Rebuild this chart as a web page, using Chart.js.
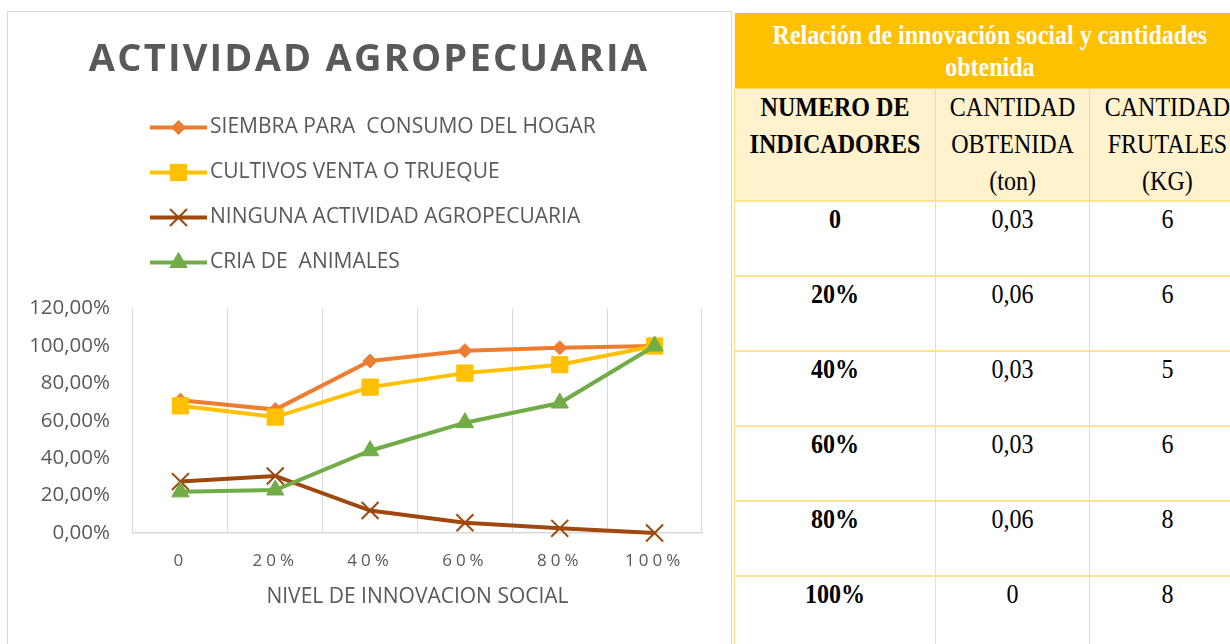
<!DOCTYPE html>
<html lang="es">
<head>
<meta charset="utf-8">
<title>Actividad agropecuaria</title>
<script src="https://cdn.jsdelivr.net/npm/chart.js"></script>
<style>
  html, body { margin: 0; padding: 0; background: #fff; }
  body { width: 1230px; height: 644px; overflow: hidden; position: relative; }
  #chartBox {
    position: absolute; left: 7px; top: 11px; width: 725px; height: 640px;
    border: 1px solid #d9d9d9; box-sizing: border-box;
  }
  /* la tabla original usa una Times algo comprimida */
  #tableBox {
    position: absolute; left: 734px; top: 13px; width: 574px;
    transform: scaleX(0.89); transform-origin: 0 0;
  }
  table {
    border-collapse: collapse; width: 574px; table-layout: fixed;
    font-family: "Liberation Serif", "Times New Roman", serif; color: #000;
  }
  th, td { padding: 0; text-align: center; vertical-align: top; }
  .titulo th {
    height: 75px; background: #FFC000; color: #fff; font-weight: bold;
    font-size: 27px; line-height: 32px; vertical-align: middle;
  }
  .cabecera th {
    height: 107px; background: #FFF2CC; font-size: 27px; line-height: 37px;
    font-weight: normal; border: 1px solid #FFD966; padding-top: 0;
  }
  .cabecera th.neg { font-weight: bold; }
  tbody td {
    height: 75px; font-size: 27px; line-height: 30px; padding-top: 2px;
    box-sizing: border-box;
    border-left: 1px solid #FFD966; border-right: 1px solid #FFD966;
    border-top: 2px solid #FFE38F; border-bottom: 2px solid #FFE38F;
  }
  tbody td.neg { font-weight: bold; }
</style>
</head>
<body>
<div id="chartBox"><canvas id="grafico"></canvas></div>
<div id="tableBox">
  <table>
    <colgroup><col style="width:226px"><col style="width:173px"><col style="width:175px"></colgroup>
    <thead>
      <tr class="titulo"><th colspan="3">Relación de innovación social y cantidades<br>obtenida</th></tr>
      <tr class="cabecera">
        <th class="neg">NUMERO DE<br>INDICADORES</th>
        <th>CANTIDAD<br>OBTENIDA<br>(ton)</th>
        <th>CANTIDAD<br>FRUTALES<br>(KG)</th>
      </tr>
    </thead>
    <tbody id="cuerpoTabla"></tbody>
  </table>
</div>
<script>
// --- datos del gráfico ---
const categorias = ['0', '20%', '40%', '60%', '80%', '100%'];
const siembraConsumo = [0.71, 0.66, 0.92, 0.975, 0.99, 1.0];
const cultivosVenta = [0.68, 0.62, 0.78, 0.855, 0.90, 1.0];
const ningunaActividad = [0.275, 0.305, 0.12, 0.055, 0.025, 0.0];
const criaAnimales = [0.22, 0.23, 0.44, 0.59, 0.695, 1.0];
const etiquetasY = ['0,00%', '20,00%', '40,00%', '60,00%', '80,00%', '100,00%', '120,00%'];

// --- datos de la tabla ---
const tablaIndicadores = ['0', '20%', '40%', '60%', '80%', '100%'];
const tablaCantidadObtenida = ['0,03', '0,06', '0,03', '0,03', '0,06', '0'];
const tablaCantidadFrutales = ['6', '6', '5', '6', '8', '8'];

// tabla
const cuerpo = document.getElementById('cuerpoTabla');
tablaIndicadores.forEach((ind, i) => {
  const tr = document.createElement('tr');
  [[ind, 'neg'], [tablaCantidadObtenida[i], ''], [tablaCantidadFrutales[i], '']].forEach(([txt, cls]) => {
    const td = document.createElement('td');
    td.textContent = txt;
    if (cls) td.className = cls;
    tr.appendChild(td);
  });
  cuerpo.appendChild(tr);
});

// espaciado de letras para el título y las etiquetas del eje X
function conEspaciado(obj, metodo, espacio, dx) {
  if (!obj || obj['_esp_' + metodo]) return;
  const original = obj[metodo];
  obj[metodo] = function (...args) {
    const ctx = this.ctx;
    ctx.save();
    ctx.letterSpacing = espacio;
    ctx.translate(dx || 0, 0);
    original.apply(this, args);
    ctx.restore();
  };
  obj['_esp_' + metodo] = true;
}

const espaciado = {
  id: 'espaciado',
  beforeDraw(chart) {
    conEspaciado(chart.titleBlock, 'draw', '2.2px', 10);
    conEspaciado(chart.scales.x, 'drawLabels', '4px', 0);
  }
};

// leyenda vertical como en Excel
const leyendaVertical = {
  id: 'leyendaVertical',
  afterDraw(chart) {
    const ctx = chart.ctx;
    ctx.save();
    ctx.font = '21px "Open Sans"';
    ctx.textBaseline = 'middle';
    ctx.textAlign = 'left';
    chart.data.datasets.forEach((ds, i) => {
      const y = 115.5 + i * 45;
      ctx.strokeStyle = ds.borderColor;
      ctx.lineWidth = 4;
      ctx.beginPath();
      ctx.moveTo(142, y);
      ctx.lineTo(199, y);
      ctx.stroke();
      ctx.fillStyle = ds.pointBackgroundColor;
      ctx.strokeStyle = ds.pointBorderColor;
      ctx.lineWidth = ds.pointBorderWidth;
      if (Chart.helpers && Chart.helpers.drawPoint) {
        Chart.helpers.drawPoint(ctx, {
          pointStyle: ds.pointStyle, radius: ds.pointRadius, rotation: 0, borderWidth: ds.pointBorderWidth
        }, 170.5, y);
      }
      ctx.fillStyle = '#595959';
      ctx.fillText(ds.label, 202, y);
    });
    ctx.restore();
  }
};

function serie(label, data, color, estilo, radio, borde, orden) {
  return {
    label: label, data: data,
    borderColor: color, backgroundColor: color, borderWidth: 4,
    pointStyle: estilo, pointRadius: radio, pointHoverRadius: radio,
    pointBackgroundColor: color, pointBorderColor: color, pointBorderWidth: borde,
    tension: 0, order: orden, clip: false
  };
}

Chart.defaults.font.family = '"Open Sans", sans-serif';
Chart.defaults.color = '#595959';

new Chart(document.getElementById('grafico'), {
  type: 'line',
  data: {
    labels: categorias,
    datasets: [
      serie('SIEMBRA PARA  CONSUMO DEL HOGAR', siembraConsumo, '#ED7D31', 'rectRot', 7, 1, 4),
      serie('CULTIVOS VENTA O TRUEQUE', cultivosVenta, '#FFC000', 'rect', 11.5, 1, 3),
      serie('NINGUNA ACTIVIDAD AGROPECUARIA', ningunaActividad, '#9E480E', 'crossRot', 12, 2, 2),
      serie('CRIA DE  ANIMALES', criaAnimales, '#70AD47', 'triangle', 10, 1, 1)
    ]
  },
  options: {
    responsive: true,
    maintainAspectRatio: false,
    animation: false,
    layout: { padding: { left: 8, right: 29, top: 0, bottom: 37 } },
    plugins: {
      legend: { display: false },
      tooltip: { enabled: false },
      title: {
        display: true,
        text: 'ACTIVIDAD AGROPECUARIA',
        color: '#595959',
        font: { size: 38, weight: 'bold', family: '"Open Sans", sans-serif' },
        padding: { top: 25, bottom: 226 }
      }
    },
    scales: {
      x: {
        offset: true,
        grid: { display: true, offset: true, color: '#d9d9d9', lineWidth: 1, drawTicks: false },
        border: { display: true, color: '#d9d9d9', width: 1.5 },
        ticks: { color: '#595959', font: { size: 17 }, padding: 18, maxRotation: 0 },
        title: {
          display: true, text: 'NIVEL DE INNOVACION SOCIAL', color: '#595959',
          font: { size: 21 }, padding: { top: 0, bottom: 3 }
        },
        afterFit(scale) { scale.height = 80; }
      },
      y: {
        min: 0, max: 1.2,
        grid: { display: false, drawTicks: false },
        border: { display: false },
        ticks: {
          stepSize: 0.2, padding: 23, color: '#595959', font: { size: 20.5 },
          callback: (v, i) => etiquetasY[i]
        },
        afterFit(scale) { scale.width = 117; }
      }
    }
  },
  plugins: [espaciado, leyendaVertical]
});
</script>
</body>
</html>
